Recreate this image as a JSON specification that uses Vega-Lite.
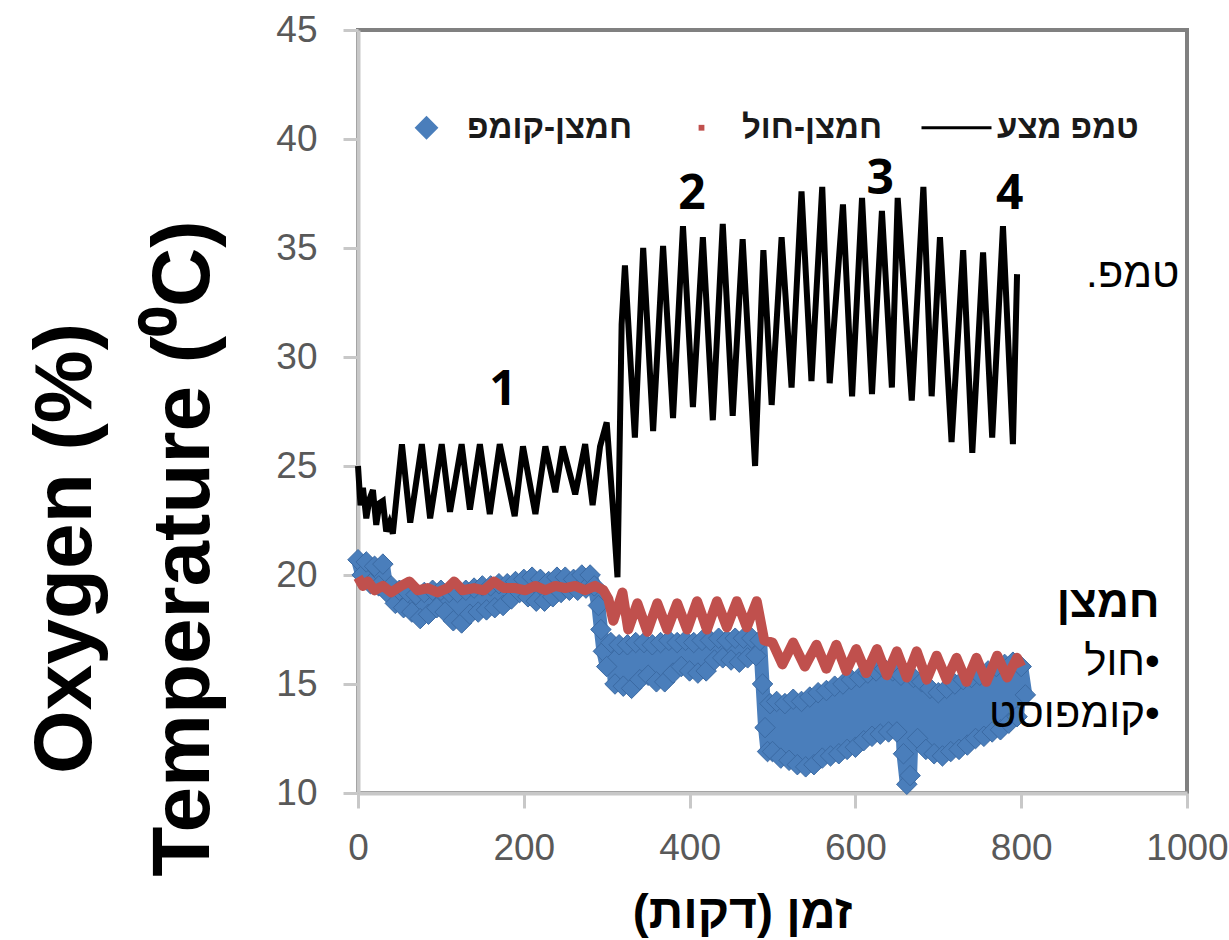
{
  "$schema": "https://vega.github.io/schema/vega-lite/v6.json",
  "width": 829,
  "height": 763,
  "autosize": "none",
  "padding": {"left": 358, "top": 30, "right": 42, "bottom": 147},
  "background": "#ffffff",
  "config": {
    "view": {"stroke": "#808080", "strokeWidth": 4},
    "axis": {"grid": false},
    "style": {"dia": {"shape": "diamond"}}
  },
  "datasets": {
    "composite": [
      {"t":0,"v":20.7},{"t":5,"v":20.0},{"t":10,"v":20.6},{"t":15,"v":19.6},{"t":20,"v":20.4},{"t":25,"v":19.5},{"t":30,"v":20.5},{"t":35,"v":19.2},{"t":40,"v":19.5},{"t":45,"v":18.7},
      {"t":50,"v":19.3},{"t":55,"v":18.5},{"t":60,"v":19.2},{"t":65,"v":18.3},{"t":70,"v":19.1},{"t":75,"v":18.0},{"t":80,"v":19.2},{"t":85,"v":18.2},{"t":90,"v":19.3},{"t":95,"v":18.5},
      {"t":100,"v":19.3},{"t":105,"v":18.3},{"t":110,"v":19.2},{"t":115,"v":17.9},{"t":120,"v":19.2},{"t":125,"v":17.8},{"t":130,"v":19.3},{"t":135,"v":18.2},{"t":140,"v":19.4},{"t":145,"v":18.3},
      {"t":150,"v":19.5},{"t":155,"v":18.4},{"t":160,"v":19.5},{"t":165,"v":18.5},{"t":170,"v":19.6},{"t":175,"v":18.6},{"t":180,"v":19.6},{"t":185,"v":18.9},{"t":190,"v":19.7},{"t":195,"v":19.2},
      {"t":200,"v":19.8},{"t":205,"v":19.0},{"t":210,"v":19.9},{"t":215,"v":18.8},{"t":220,"v":19.8},{"t":225,"v":18.8},{"t":230,"v":19.7},{"t":235,"v":19.0},{"t":240,"v":19.9},{"t":245,"v":19.2},
      {"t":250,"v":19.9},{"t":255,"v":19.3},{"t":260,"v":19.8},{"t":265,"v":19.3},{"t":270,"v":20.0},{"t":275,"v":19.4},{"t":280,"v":20.0},{"t":285,"v":19.5},{"t":290,"v":18.6},{"t":293,"v":17.5},
      {"t":296,"v":16.5},{"t":300,"v":15.8},{"t":305,"v":16.9},{"t":310,"v":15.0},{"t":315,"v":16.8},{"t":320,"v":14.9},{"t":325,"v":16.8},{"t":330,"v":14.8},{"t":335,"v":16.9},{"t":340,"v":15.2},
      {"t":345,"v":16.9},{"t":350,"v":15.4},{"t":355,"v":16.8},{"t":360,"v":15.1},{"t":365,"v":16.9},{"t":370,"v":15.1},{"t":375,"v":17.0},{"t":380,"v":15.5},{"t":385,"v":16.9},{"t":390,"v":15.8},
      {"t":395,"v":17.0},{"t":400,"v":15.6},{"t":405,"v":16.9},{"t":410,"v":15.5},{"t":415,"v":17.0},{"t":420,"v":15.6},{"t":425,"v":17.0},{"t":430,"v":16.1},{"t":435,"v":17.1},{"t":440,"v":16.2},
      {"t":445,"v":17.0},{"t":450,"v":16.1},{"t":455,"v":17.1},{"t":460,"v":16.0},{"t":465,"v":17.1},{"t":470,"v":16.2},{"t":475,"v":17.1},{"t":480,"v":16.3},{"t":485,"v":17.0},{"t":488,"v":15.0},
      {"t":491,"v":13.0},{"t":494,"v":11.9},{"t":497,"v":14.1},{"t":500,"v":11.9},{"t":505,"v":14.2},{"t":510,"v":11.6},{"t":515,"v":14.1},{"t":520,"v":11.5},{"t":525,"v":14.3},{"t":530,"v":11.3},
      {"t":535,"v":14.2},{"t":540,"v":11.2},{"t":545,"v":14.4},{"t":550,"v":11.3},{"t":555,"v":14.6},{"t":560,"v":11.6},{"t":565,"v":14.7},{"t":570,"v":11.7},{"t":575,"v":14.9},{"t":580,"v":11.8},
      {"t":585,"v":15.0},{"t":590,"v":12.0},{"t":595,"v":15.2},{"t":600,"v":12.1},{"t":605,"v":15.3},{"t":610,"v":12.4},{"t":615,"v":15.5},{"t":620,"v":12.6},{"t":625,"v":15.6},{"t":630,"v":12.7},
      {"t":635,"v":15.7},{"t":640,"v":12.8},{"t":645,"v":15.6},{"t":650,"v":12.8},{"t":655,"v":15.4},{"t":658,"v":11.8},{"t":662,"v":10.4},{"t":666,"v":10.8},{"t":670,"v":15.3},{"t":675,"v":12.5},
      {"t":680,"v":15.1},{"t":685,"v":12.0},{"t":690,"v":14.8},{"t":695,"v":11.8},{"t":700,"v":14.6},{"t":705,"v":11.7},{"t":710,"v":14.8},{"t":715,"v":11.9},{"t":720,"v":15.0},{"t":725,"v":12.0},
      {"t":730,"v":15.2},{"t":735,"v":12.2},{"t":740,"v":15.3},{"t":745,"v":12.5},{"t":750,"v":15.4},{"t":755,"v":12.6},{"t":760,"v":15.6},{"t":765,"v":12.8},{"t":770,"v":15.8},{"t":775,"v":12.9},
      {"t":780,"v":15.9},{"t":785,"v":13.2},{"t":790,"v":16.0},{"t":795,"v":13.5},{"t":800,"v":15.8},{"t":805,"v":14.5}
    ],
    "sand": [
      {"t":0,"v":19.9},{"t":6,"v":19.5},{"t":12,"v":19.7},{"t":20,"v":19.3},{"t":30,"v":19.5},{"t":40,"v":19.2},{"t":52,"v":19.5},{"t":62,"v":19.7},{"t":72,"v":19.3},{"t":84,"v":19.4},
      {"t":96,"v":19.2},{"t":108,"v":19.4},{"t":116,"v":19.7},{"t":126,"v":19.3},{"t":140,"v":19.4},{"t":152,"v":19.3},{"t":164,"v":19.7},{"t":176,"v":19.4},{"t":190,"v":19.4},{"t":202,"v":19.3},
      {"t":214,"v":19.5},{"t":226,"v":19.3},{"t":238,"v":19.5},{"t":250,"v":19.4},{"t":262,"v":19.5},{"t":274,"v":19.3},{"t":286,"v":19.5},{"t":296,"v":19.3},{"t":302,"v":18.9},{"t":308,"v":17.9},
      {"t":319,"v":19.2},{"t":326,"v":17.5},{"t":337,"v":18.7},{"t":349,"v":17.4},{"t":361,"v":18.7},{"t":373,"v":17.5},{"t":385,"v":18.7},{"t":397,"v":17.5},{"t":409,"v":18.8},{"t":421,"v":17.5},
      {"t":433,"v":18.8},{"t":445,"v":17.6},{"t":457,"v":18.8},{"t":469,"v":17.6},{"t":481,"v":18.8},{"t":490,"v":17.0},{"t":500,"v":16.9},{"t":512,"v":15.9},{"t":525,"v":16.9},{"t":539,"v":15.8},
      {"t":553,"v":16.8},{"t":565,"v":15.7},{"t":577,"v":16.8},{"t":589,"v":15.6},{"t":601,"v":16.6},{"t":613,"v":15.5},{"t":626,"v":16.6},{"t":638,"v":15.4},{"t":650,"v":16.5},{"t":662,"v":15.3},
      {"t":674,"v":16.5},{"t":686,"v":15.2},{"t":698,"v":16.3},{"t":710,"v":15.2},{"t":722,"v":16.2},{"t":734,"v":15.1},{"t":746,"v":16.2},{"t":758,"v":15.1},{"t":771,"v":16.3},{"t":783,"v":15.3},
      {"t":795,"v":16.2},{"t":800,"v":15.8}
    ],
    "temp": [
      {"t":0,"v":25.0},{"t":3,"v":23.2},{"t":6,"v":24.0},{"t":10,"v":22.6},{"t":14,"v":23.5},{"t":18,"v":23.9},{"t":22,"v":22.3},{"t":26,"v":23.3},{"t":30,"v":23.4},{"t":34,"v":22.0},
      {"t":38,"v":22.4},{"t":42,"v":21.9},{"t":53,"v":26.0},{"t":63,"v":22.4},{"t":77,"v":26.0},{"t":87,"v":22.6},{"t":101,"v":26.0},{"t":111,"v":22.9},{"t":125,"v":26.0},{"t":135,"v":23.0},
      {"t":147,"v":26.0},{"t":159,"v":22.8},{"t":171,"v":26.0},{"t":189,"v":22.7},{"t":199,"v":25.9},{"t":214,"v":22.8},{"t":226,"v":25.9},{"t":238,"v":23.8},{"t":247,"v":25.9},{"t":262,"v":23.7},
      {"t":274,"v":26.0},{"t":283,"v":23.2},{"t":292,"v":25.9},{"t":300,"v":27.0},{"t":308,"v":22.8},{"t":313,"v":19.9},{"t":318,"v":31.5},{"t":322,"v":34.2},{"t":334,"v":26.3},{"t":344,"v":35.0},
      {"t":356,"v":26.6},{"t":368,"v":35.1},{"t":380,"v":27.2},{"t":392,"v":36.0},{"t":404,"v":27.7},{"t":416,"v":35.5},{"t":428,"v":27.1},{"t":440,"v":36.1},{"t":452,"v":27.3},{"t":464,"v":35.4},
      {"t":479,"v":25.0},{"t":489,"v":34.9},{"t":499,"v":27.8},{"t":511,"v":35.5},{"t":523,"v":28.6},{"t":535,"v":37.6},{"t":547,"v":28.9},{"t":560,"v":37.8},{"t":569,"v":28.8},{"t":585,"v":37.0},
      {"t":596,"v":28.2},{"t":608,"v":37.3},{"t":620,"v":28.3},{"t":632,"v":36.7},{"t":644,"v":28.6},{"t":651,"v":37.3},{"t":668,"v":28.0},{"t":682,"v":37.8},{"t":692,"v":28.2},{"t":702,"v":35.5},
      {"t":716,"v":26.1},{"t":730,"v":34.9},{"t":741,"v":25.6},{"t":754,"v":34.8},{"t":765,"v":26.3},{"t":778,"v":36.0},{"t":790,"v":26.0},{"t":795,"v":33.8}
    ],
    "phases": [
      {"t":175,"v":27.8,"label":"1"},{"t":403,"v":36.8,"label":"2"},{"t":630,"v":37.5,"label":"3"},{"t":786,"v":36.8,"label":"4"}
    ],
    "tempNote": [{"t":991,"v":33.2,"label":"טמפ.\u200f"}],
    "o2Head": [{"t":967,"v":18.07,"label":"חמצן"}],
    "o2Items": [{"t":967,"v":15.41,"label":"\u200f•חול"},{"t":967,"v":13.03,"label":"\u200f•קומפוסט"}]
  },
  "encoding": {
    "x": {
      "field": "t", "type": "quantitative",
      "scale": {"domain": [0, 1000], "nice": false, "zero": false},
      "axis": {
        "values": [0, 200, 400, 600, 800, 1000], "format": "d",
        "domainColor": "#c8c8c8", "domainWidth": 4,
        "tickColor": "#c8c8c8", "tickWidth": 3, "tickSize": 15,
        "labelFont": "Liberation Sans", "labelFontSize": 37, "labelColor": "#595959",
        "labelPadding": 22, "labelFlush": false, "labelOverlap": false,
        "title": "\u200fזמן (דקות)\u200f",
        "titleFont": "Liberation Sans", "titleFontSize": 48, "titleFontWeight": "bold", "titleColor": "#000000",
        "titleX": 384, "titleY": 134, "titleBaseline": "alphabetic", "titleAlign": "center"
      }
    },
    "y": {
      "field": "v", "type": "quantitative",
      "scale": {"domain": [10, 45], "nice": false, "zero": false},
      "axis": {
        "values": [10, 15, 20, 25, 30, 35, 40, 45],
        "domainColor": "#c8c8c8", "domainWidth": 4,
        "tickColor": "#c8c8c8", "tickWidth": 3, "tickSize": 15,
        "labelFont": "Liberation Sans", "labelFontSize": 37, "labelColor": "#595959",
        "labelPadding": 26, "labelFlush": false, "labelOverlap": false,
        "title": ["Oxygen (%)", "Temperature (⁰C)"],
        "titleFont": "Liberation Sans", "titleFontSize": 82, "titleFontWeight": "bold", "titleColor": "#000000",
        "titleLineHeight": 118, "titleAngle": -90,
        "titleX": -268, "titleY": 518, "titleBaseline": "alphabetic", "titleAlign": "center"
      }
    }
  },
  "layer": [
    {
      "data": {"name": "composite"},
      "mark": {"type": "line", "strokeWidth": 14, "strokeJoin": "round"},
      "encoding": {"color": {"datum": "חמצן-קומפ", "type": "nominal"}}
    },
    {
      "data": {"name": "composite"},
      "mark": {"type": "point", "style": "dia", "filled": true, "size": 420, "opacity": 1, "stroke": "#3b6aa3", "strokeWidth": 1},
      "encoding": {
        "color": {
          "datum": "חמצן-קומפ", "type": "nominal",
          "scale": {"domain": ["חמצן-קומפ", "חמצן-חול", "טמפ מצע"], "range": ["#4a7ebb", "#c0504d", "#000000"]},
          "legend": {
            "orient": "none", "legendX": 32, "legendY": 61, "direction": "horizontal", "title": null,
            "symbolSize": 4900, "symbolStrokeWidth": 3,
            "symbolType": {"expr": "datum.value === 'טמפ מצע' ? 'stroke' : datum.value === 'חמצן-קומפ' ? 'M-0.28,0L0,-0.28L0.28,0L0,0.28Z' : 'M-0.04,-0.04L0.04,-0.04L0.04,0.04L-0.04,0.04Z'"},
            "labelFont": "Liberation Sans", "labelFontSize": 33, "labelFontWeight": "bold", "labelColor": "#1a1a1a",
            "labelLimit": 400, "labelOffset": 4, "columnPadding": 32, "padding": 0
          }
        }
      }
    },
    {
      "data": {"name": "sand"},
      "mark": {"type": "line", "strokeWidth": 10, "strokeJoin": "round"},
      "encoding": {"color": {"datum": "חמצן-חול", "type": "nominal"}}
    },
    {
      "data": {"name": "temp"},
      "mark": {"type": "line", "strokeWidth": 6, "strokeJoin": "miter"},
      "encoding": {"color": {"datum": "טמפ מצע", "type": "nominal"}}
    },
    {
      "data": {"name": "phases"},
      "mark": {"type": "text", "font": "Open Sans", "fontSize": 48, "fontWeight": "bold", "color": "#000000", "align": "center", "baseline": "alphabetic"},
      "encoding": {"text": {"field": "label"}}
    },
    {
      "data": {"name": "tempNote"},
      "mark": {"type": "text", "font": "Liberation Sans", "fontSize": 42, "color": "#000000", "align": "right", "baseline": "alphabetic"},
      "encoding": {"text": {"field": "label"}}
    },
    {
      "data": {"name": "o2Head"},
      "mark": {"type": "text", "font": "Liberation Sans", "fontSize": 44, "fontWeight": "bold", "color": "#000000", "align": "right", "baseline": "alphabetic"},
      "encoding": {"text": {"field": "label"}}
    },
    {
      "data": {"name": "o2Items"},
      "mark": {"type": "text", "font": "Liberation Sans", "fontSize": 42, "color": "#000000", "align": "right", "baseline": "alphabetic"},
      "encoding": {"text": {"field": "label"}}
    }
  ]
}
